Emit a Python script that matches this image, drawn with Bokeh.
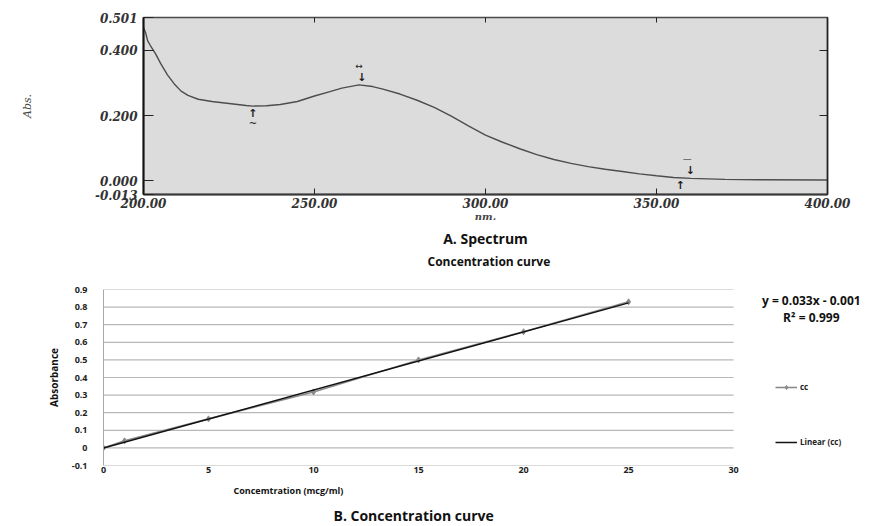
from bokeh.plotting import figure
from bokeh.layouts import column
from bokeh.models import (FixedTicker, LinearAxis, Title, Label, Legend, LegendItem,
                          NumeralTickFormatter)
from bokeh.core.properties import value
from bokeh.embed import file_html
from bokeh.resources import INLINE

# ---------------- data: A. Spectrum ----------------
wavelength_nm = [200.0, 200.6, 201.2, 202.0, 203.5, 205.0, 207.0, 209.0, 211.0, 213.0,
                 216.0, 220.0, 225.0, 230.0, 232.0, 236.0, 240.0, 245.0, 250.0, 254.0,
                 258.0, 263.0, 267.0, 270.0, 275.0, 280.0, 285.0, 290.0, 295.0, 300.0,
                 305.0, 310.0, 315.0, 320.0, 325.0, 330.0, 335.0, 340.0, 345.0, 350.0,
                 355.0, 360.0, 370.0, 380.0, 400.0]
absorbance = [0.470, 0.455, 0.430, 0.415, 0.390, 0.360, 0.325, 0.297, 0.275, 0.262,
              0.250, 0.243, 0.237, 0.231, 0.229, 0.230, 0.234, 0.243, 0.260, 0.272,
              0.284, 0.294, 0.289, 0.281, 0.266, 0.247, 0.225, 0.198, 0.168, 0.140,
              0.118, 0.098, 0.080, 0.065, 0.053, 0.043, 0.035, 0.028, 0.021, 0.015,
              0.010, 0.007, 0.004, 0.003, 0.002]
spec_x_ticks = [200, 250, 300, 350, 400]
spec_y_ticks = [0.0, 0.2, 0.4, 0.501]
spec_y_min_label = "-0.013"
valley_nm = [232, 357]
valley_abs = [0.229, 0.009]
valley_marks = ["~", ""]
peak_nm = [263, 359]
peak_abs = [0.294, 0.008]
peak_marks = ["\u2194", "\u2014"]

# ---------------- data: B. Concentration curve ----------------
conc = [0, 1, 5, 10, 15, 20, 25]
absb = [0.0, 0.04, 0.165, 0.318, 0.50, 0.66, 0.83]
slope = 0.033
intercept = -0.001
r2 = 0.999
conc_x_ticks = [0, 5, 10, 15, 20, 25, 30]
conc_y_ticks = [-0.1, 0.0, 0.1, 0.2, 0.3, 0.4, 0.5, 0.6, 0.7, 0.8, 0.9]

SERIF = "DejaVu Serif"
SANS = "Open Sans"

# =============== Figure A ===============
y_bottom = -0.0424
p1 = figure(width=874, height=270, x_range=(200, 400), y_range=(y_bottom, 0.501),
            output_backend="svg", toolbar_location=None,
            min_border_left=143, min_border_right=47, min_border_top=17, min_border_bottom=75,
            background_fill_color="#dcdcdc", border_fill_color="white",
            outline_line_color="#4a4a4a", outline_line_width=1.5)
p1.grid.visible = False
p1.line(wavelength_nm, absorbance, line_color="#4d4d4d", line_width=1.4)

for ax in p1.xaxis:
    ax.ticker = FixedTicker(ticks=spec_x_ticks)
    ax.formatter = NumeralTickFormatter(format="0.00")
    ax.major_label_text_font = SERIF
    ax.major_label_text_font_style = "bold italic"
    ax.major_label_text_font_size = "12px"
    ax.major_label_text_color = "#333333"
    ax.major_label_standoff = 3
    ax.major_tick_in = 6
    ax.major_tick_out = 0
    ax.minor_tick_line_color = None
    ax.axis_line_color = "#3a3a3a"
    ax.axis_line_width = 2
    ax.major_tick_line_color = "#222222"
    ax.axis_label = "nm."
    ax.axis_label_text_font = SERIF
    ax.axis_label_text_font_style = "bold italic"
    ax.axis_label_text_font_size = "10px"
    ax.axis_label_text_color = "#444444"
    ax.axis_label_standoff = 0

for ax in p1.yaxis:
    ax.ticker = FixedTicker(ticks=[y_bottom] + spec_y_ticks)
    ax.formatter = NumeralTickFormatter(format="0.000")
    ax.major_label_overrides = {y_bottom: spec_y_min_label}
    ax.major_label_text_font = SERIF
    ax.major_label_text_font_style = "bold italic"
    ax.major_label_text_font_size = "12px"
    ax.major_label_text_color = "#333333"
    ax.major_label_standoff = 6
    ax.major_tick_in = 10
    ax.major_tick_out = 0
    ax.minor_tick_line_color = None
    ax.axis_line_color = "#111111"
    ax.axis_line_width = 2
    ax.major_tick_line_color = "#222222"
    ax.axis_label = "Abs."
    ax.axis_label_text_font = SERIF
    ax.axis_label_text_font_style = "italic"
    ax.axis_label_text_font_size = "11px"
    ax.axis_label_text_color = "#444444"
    ax.axis_label_standoff = 58

top_ticks = spec_x_ticks[1:-1]
top_ax = LinearAxis(ticker=FixedTicker(ticks=top_ticks),
                    major_label_overrides={t: "" for t in top_ticks},
                    major_tick_in=5, major_tick_out=0, minor_tick_line_color=None,
                    axis_line_color="#4a4a4a", major_tick_line_color="#222222")
right_ticks = [0.2, 0.4]
right_ax = LinearAxis(ticker=FixedTicker(ticks=right_ticks),
                      major_label_overrides={t: "" for t in right_ticks},
                      major_tick_in=8, major_tick_out=0, minor_tick_line_color=None,
                      axis_line_color="#222222", axis_line_width=1.5,
                      major_tick_line_color="#222222")
p1.add_layout(top_ax, "above")
p1.add_layout(right_ax, "right")

# peak-pick arrows
p1.text(x=valley_nm, y=valley_abs, text=["\u2191"] * len(valley_nm), text_font=value("DejaVu Sans"),
        text_font_style="bold", text_font_size="11px", text_color="#1a1a1a",
        text_align="center", text_baseline="top", y_offset=1)
p1.text(x=peak_nm, y=peak_abs, text=["\u2193"] * len(peak_nm), text_font=value("DejaVu Sans"),
        text_font_style="bold", text_font_size="11px", text_color="#1a1a1a",
        text_align="center", text_baseline="bottom", y_offset=-1, x_offset=3)
p1.text(x=valley_nm[:1], y=valley_abs[:1], text=valley_marks[:1], text_font=value("DejaVu Sans"),
        text_font_size="10px", text_color="#222222", text_align="center",
        text_baseline="top", y_offset=12)
p1.text(x=peak_nm, y=peak_abs, text=peak_marks, text_font=value("DejaVu Sans"),
        text_font_size="9px", text_color="#222222", text_align="center",
        text_baseline="bottom", y_offset=-14)

p1.add_layout(Title(text="A. Spectrum", align="center", text_font=SANS, text_font_style="bold",
                    text_font_size="14px", text_color="#111111", standoff=4), "below")
# heading of the concentration chart (sits just above panel B)
p1.add_layout(Title(text="Concentration curve", align="left", offset=284, text_font=SANS,
                    text_font_style="bold", text_font_size="12px", text_color="#111111",
                    standoff=2), "below")

# =============== Figure B ===============
# frame runs to the right edge so the legend / equation (right of x = 30) are not clipped
x_end = 36.71
p2 = figure(width=874, height=256, x_range=(0, x_end), y_range=(-0.1, 0.9),
            output_backend="svg", toolbar_location=None,
            min_border_left=103, min_border_right=0, min_border_top=19, min_border_bottom=61,
            background_fill_color="white", border_fill_color="white", outline_line_color=None)
p2.grid.visible = False
# horizontal gridlines spanning the 0..30 axis extent
p2.segment(x0=[conc_x_ticks[0]] * len(conc_y_ticks), x1=[conc_x_ticks[-1]] * len(conc_y_ticks),
           y0=conc_y_ticks, y1=conc_y_ticks, line_color="#b8b8b8", line_width=1.2)

ax = p2.xaxis[0]
ax.ticker = FixedTicker(ticks=conc_x_ticks)
ax.major_label_text_font = SANS
ax.major_label_text_font_style = "bold"
ax.major_label_text_font_size = "9px"
ax.major_label_text_color = "#222222"
ax.major_label_standoff = -5
ax.major_tick_line_color = None
ax.minor_tick_line_color = None
ax.axis_line_color = None

ay = p2.yaxis[0]
ay.ticker = FixedTicker(ticks=conc_y_ticks)
ay.formatter = NumeralTickFormatter(format="0.[0]")
ay.major_label_text_font = SANS
ay.major_label_text_font_style = "bold"
ay.major_label_text_font_size = "9px"
ay.major_label_text_color = "#222222"
ay.major_label_standoff = 10
ay.major_tick_line_color = None
ay.minor_tick_line_color = None
ay.axis_line_color = "#a8a8a8"
ay.axis_label = "Absorbance"
ay.axis_label_text_font = SANS
ay.axis_label_text_font_style = "bold"
ay.axis_label_text_font_size = "10px"
ay.axis_label_text_color = "#111111"
ay.axis_label_standoff = 8

r_cc_line = p2.line(conc, absb, line_color="#8a8a8a", line_width=1.6)
r_cc_pts = p2.scatter(conc, absb, marker="diamond", size=6, fill_color="#8a8a8a",
                      line_color="#8a8a8a")
fit_x = [conc[0], conc[-1]]
fit_y = [slope * v + intercept for v in fit_x]
r_fit = p2.line(fit_x, fit_y, line_color="#111111", line_width=1.5)

legend = Legend(items=[LegendItem(label="cc", renderers=[r_cc_line, r_cc_pts]),
                       LegendItem(label="Linear (cc)", renderers=[r_fit])],
                location=(672, 18), border_line_color=None, background_fill_alpha=0,
                label_text_font=SANS, label_text_font_style="bold", label_text_font_size="8px",
                label_text_color="#222222", glyph_width=22, glyph_height=10, label_height=10,
                spacing=44, padding=0, margin=0, label_standoff=3)
p2.add_layout(legend, "center")

sign = "-" if intercept < 0 else "+"
p2.add_layout(Label(x=33.7, y=0.84, text=f"y = {slope}x {sign} {abs(intercept)}",
                    text_font=SANS, text_font_style="bold", text_font_size="12px",
                    text_color="#111111", text_align="center", text_baseline="middle"))
p2.add_layout(Label(x=33.7, y=0.74, text=f"R\u00b2 = {r2}",
                    text_font=SANS, text_font_style="bold", text_font_size="12px",
                    text_color="#111111", text_align="center", text_baseline="middle"))

p2.add_layout(Title(text="Concemtration (mcg/ml)", align="left", offset=130, text_font=SANS,
                    text_font_style="bold", text_font_size="9px", text_color="#111111",
                    standoff=13), "below")
p2.add_layout(Title(text="B. Concentration curve", align="left", offset=230, text_font=SANS,
                    text_font_style="bold", text_font_size="14px", text_color="#111111",
                    standoff=1), "below")

if "frame_align" in p1.properties():
    p1.frame_align = False
    p2.frame_align = False
    layout = column(p1, p2, spacing=0)
    html = file_html(layout, INLINE)
else:
    html = file_html([p1, p2], INLINE)
open("out.html", "w").write(html)
